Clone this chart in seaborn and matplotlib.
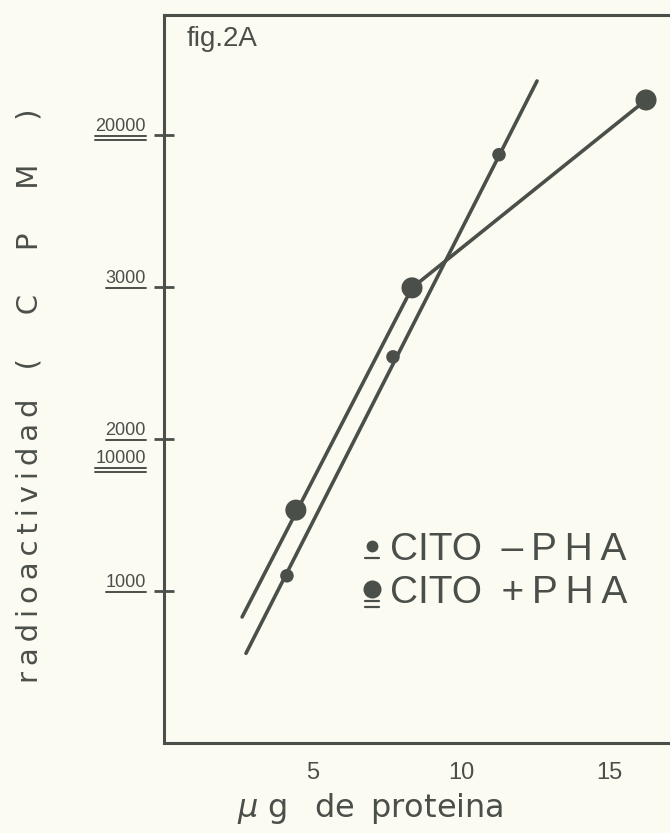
import numpy as np
import pandas as pd
import matplotlib
matplotlib.use("Agg")
import matplotlib.pyplot as plt
import matplotlib.transforms as mtransforms
from matplotlib.lines import Line2D
import seaborn as sns

# ---------------- data ----------------
# CITO - PHA (small dots, left scale with single underline)
protein_sin = [4.14, 7.71, 11.28]
cpm_sin = [1100, 2540, 3870]
fit_sin_x = [2.76, 12.56]
fit_sin_y = [590, 4355]

# CITO + PHA (big dots, left scale with double underline)
protein_con = [4.44, 8.35, 16.23]
cpm_con = [7660, 14970, 21150]
line_con_x = [2.63, 8.35, 16.23]
line_con_y = [4145, 14970, 21150]

x_ticks = [5, 10, 15]
x_tick_labels = ["5", "10", "15"]
y_ticks_sin = [1000, 2000, 3000]
y_labels_sin = ["1000", "2000", "3000"]
y_ticks_con = [10000, 20000]
y_labels_con = ["10000", "20000"]
y_tick_marks = [1000, 2000, 3000, 4000]

legend_labels = ["CITO\u2002\u2013\u2009P\u2009H\u2009A", "CITO\u2002+\u2009P\u2009H\u2009A"]

# ---------------- style ----------------
BG = "#fcfbf2"
INK = "#4b4f4a"
W, H = 670, 833

sns.set_theme(style="white")
plt.rcParams["font.family"] = ["Liberation Sans", "DejaVu Sans"]
plt.rcParams["mathtext.fontset"] = "dejavusans"
SANS = ["Liberation Sans", "DejaVu Sans"]

fig = plt.figure(figsize=(W / 100, H / 100), dpi=100)
fig.patch.set_facecolor(BG)
ax = fig.add_axes([164 / W, 90 / H, 506 / W, 728 / H])
ax.set_facecolor(BG)

ymax_sin = 4789
ax.set_xlim(0, 506 / 29.7)
ax.set_ylim(0, ymax_sin)

ax2 = ax.twinx()
ax2.set_ylim(0, 5 * ymax_sin)
ax2.axis("off")

# ---------------- data marks ----------------
df_fit_sin = pd.DataFrame({"x": fit_sin_x, "y": fit_sin_y})
df_sin = pd.DataFrame({"x": protein_sin, "y": cpm_sin})
df_line_con = pd.DataFrame({"x": line_con_x, "y": line_con_y})
df_con = pd.DataFrame({"x": protein_con, "y": cpm_con})

sns.lineplot(data=df_fit_sin, x="x", y="y", ax=ax, color=INK, lw=2.6,
             solid_capstyle="round", zorder=2)
sns.scatterplot(data=df_sin, x="x", y="y", ax=ax, s=95, color=INK,
                edgecolor="none", zorder=3)
sns.lineplot(data=df_line_con, x="x", y="y", ax=ax2, color=INK, lw=2.6,
             sort=False, solid_capstyle="round", zorder=2)
sns.scatterplot(data=df_con, x="x", y="y", ax=ax2, s=230, color=INK,
                edgecolor="none", zorder=3)

# ---------------- axes styling ----------------
for side in ["left", "bottom", "top"]:
    ax.spines[side].set_color(INK)
    ax.spines[side].set_linewidth(2.2)
ax.spines["right"].set_visible(False)
ax.set_xlabel("")
ax.set_ylabel("")

ax.set_xticks(x_ticks)
ax.set_xticklabels(x_tick_labels, fontfamily=SANS, fontsize=17, color=INK)
ax.tick_params(axis="x", direction="inout", length=13, width=2, colors=INK, pad=7)
ax.set_yticks(y_tick_marks)
ax.set_yticklabels([])
ax.tick_params(axis="y", direction="inout", length=14, width=2, colors=INK)

# y tick labels with single / double underline
label_texts = []
trans_sin = mtransforms.blended_transform_factory(ax.transAxes, ax.transData)
trans_con = mtransforms.blended_transform_factory(ax.transAxes, ax2.transData)
for v, lab in zip(y_ticks_sin, y_labels_sin):
    t = ax.annotate(lab, xy=(0, v), xycoords=trans_sin, xytext=(-13, 0),
                    textcoords="offset points", ha="right", va="bottom",
                    fontsize=13, color=INK, fontfamily=SANS)
    label_texts.append((t, 1))
for v, lab in zip(y_ticks_con, y_labels_con):
    dy = -20 if v == 10000 else 0
    t = ax.annotate(lab, xy=(0, v), xycoords=trans_con, xytext=(-13, dy),
                    textcoords="offset points", ha="right", va="bottom",
                    fontsize=13, color=INK, fontfamily=SANS)
    label_texts.append((t, 2))

# fig label
ax.text(0.045, 0.985, "fig.2A", transform=ax.transAxes, ha="left", va="top",
        fontsize=20, color=INK, fontfamily=SANS)

# legend (manual, with underlined keys)
leg_rows = [(0.265, 8.5, 1), (0.206, 13, 2)]
for (yy, ms, nlines), lab in zip(leg_rows, legend_labels):
    ax.plot([0.411], [yy + 0.006], marker="o", ms=ms, color=INK, mec="none",
            transform=ax.transAxes, clip_on=False)
    for k in range(nlines):
        yl = yy - 0.011 - k * 0.0075
        ax.add_line(Line2D([0.397, 0.425], [yl, yl], color=INK, lw=1.6,
                           transform=ax.transAxes))
    ax.text(0.447, yy, lab, transform=ax.transAxes, ha="left", va="center",
            fontsize=28, color=INK, fontfamily=SANS)

# axis titles
ylab = ("\u2009".join("radioactividad") + "\u2003(\u2003\u2002C\u2003\u2002P"
        "\u2003\u2002M\u2003\u2002)")
fig.text(30 / W, 1 - 396 / H, ylab, rotation=90, ha="center", va="center",
         fontsize=21, color=INK, fontfamily=["DejaVu Sans"])
fig.text(370 / W, 24 / H, "$\\mu$ g\u2002 de\u2002proteina",
         ha="center", va="center", fontsize=23, color=INK,
         fontfamily=["DejaVu Sans"])

# underline the y tick labels
fig.canvas.draw()
renderer = fig.canvas.get_renderer()
for t, n in label_texts:
    bb = t.get_window_extent(renderer)
    for k in range(n):
        y = bb.y0 - 1 - k * 4
        fig.add_artist(Line2D([bb.x0 / W, bb.x1 / W], [y / H, y / H],
                              color=INK, lw=1.4, transform=fig.transFigure))

fig.savefig("out.png", dpi=100, facecolor=BG)
